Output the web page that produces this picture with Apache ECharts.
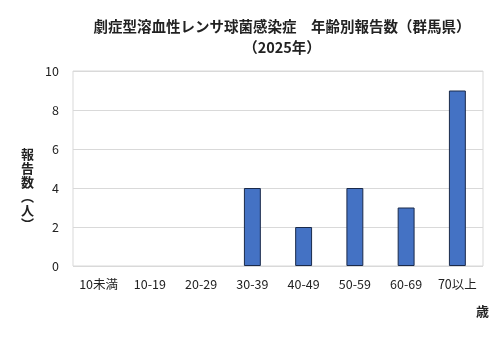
<!DOCTYPE html>
<html><head><meta charset="utf-8">
<script src="https://cdn.jsdelivr.net/npm/echarts@6/dist/echarts.min.js"></script>
<style>html,body{margin:0;padding:0;background:#fff}#c{width:500px;height:337px}</style>
</head><body><div id="c"></div>
<script>
const categories = ['10未満','10-19','20-29','30-39','40-49','50-59','60-69','70以上'];
const values = [0,0,0,4,2,4,3,9];
const yTicks = [0,2,4,6,8,10];
const FONT = '"Noto Sans CJK JP", sans-serif';
const chart = echarts.init(document.getElementById('c'), null, {renderer:'canvas'});
chart.setOption({
  animation:false,
  backgroundColor:'#fff',
  textStyle:{fontFamily:FONT},
  title:{
    text:'劇症型溶血性レンサ球菌感染症　年齢別報告数（群馬県）\n（2025年）',
    left:277, top:11, textAlign:'center',
    textStyle:{fontSize:14.5, fontWeight:'bold', color:'#222', lineHeight:21, fontFamily:FONT}
  },
  grid:{left:73, right:17, top:71, bottom:71, show:true, borderColor:'#d9d9d9', borderWidth:1},
  xAxis:{
    type:'category', data:categories,
    axisLine:{show:false}, axisTick:{show:false},
    axisLabel:{color:'#222', fontSize:12.5, margin:12, interval:0}
  },
  yAxis:{
    type:'value', min:0, max:10, interval:2,
    axisLine:{show:false}, axisTick:{show:false},
    splitLine:{lineStyle:{color:'#d9d9d9'}},
    axisLabel:{color:'#222', fontSize:12.5, margin:14,
      formatter:v=>yTicks.includes(v)?String(v):''}
  },
  series:[{
    type:'bar', barWidth:'33%',
    data:values.map(v=>v===0?{value:v,itemStyle:{borderWidth:0,opacity:0}}:v),
    itemStyle:{color:'#4472C4', borderColor:'#1a2a4a', borderWidth:1}
  }],
  graphic:[
    {type:'text', left:21, top:147, style:{text:'報\n告\n数\n︵\n人\n︶', font:'bold 13px '+FONT, fill:'#222', lineHeight:14}},
    {type:'text', left:476, top:305, style:{text:'歳', font:'bold 13px '+FONT, fill:'#222'}}
  ]
});
</script></body></html>
